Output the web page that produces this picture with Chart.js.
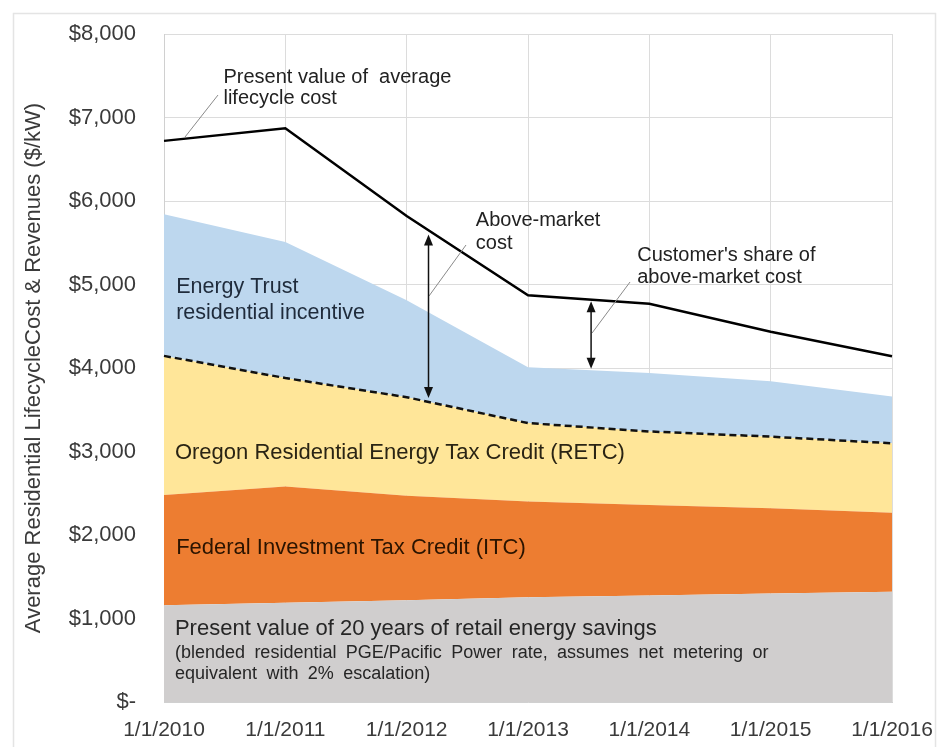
<!DOCTYPE html>
<html><head><meta charset="utf-8">
<script src="https://cdn.jsdelivr.net/npm/chart.js@4.4.0/dist/chart.umd.min.js"></script>
<style>html,body{margin:0;padding:0;background:#fff;} canvas{display:block;}</style>
</head><body>
<canvas id="c" width="937" height="747"></canvas>
<script>
// ---- data ----
const dateLabels = ['1/1/2010','1/1/2011','1/1/2012','1/1/2013','1/1/2014','1/1/2015','1/1/2016'];
const yTickLabels = ['$-','$1,000','$2,000','$3,000','$4,000','$5,000','$6,000','$7,000','$8,000'];
// cumulative tops of each stacked band ($/kW)
const retailSavingsTop = [1160,1190,1220,1255,1275,1298,1320];
const federalItcTop    = [2480,2580,2470,2400,2360,2320,2267];
const oregonRetcTop    = [4145,3880,3650,3340,3240,3178,3098];
const energyTrustTop   = [5840,5510,4810,4010,3940,3840,3660];
const lifecycleCost    = [6720,6870,5820,4870,4770,4435,4140];

const FONT = '"Liberation Sans", Arial, sans-serif';

// annotations in data units (x = category index, y = $/kW)
const annoTexts = [
  {t:'Present value of  average', x:0.49, y:7485, size:20, c:'#222'},
  {t:'lifecycle cost', x:0.49, y:7222, size:20, c:'#222'},
  {t:'Energy Trust', x:0.10, y:4970, size:21.5, c:'#1f2b3b'},
  {t:'residential incentive', x:0.10, y:4659, size:21.5, c:'#1f2b3b'},
  {t:'Above-market', x:2.57, y:5772, size:20, c:'#222'},
  {t:'cost', x:2.57, y:5497, size:20, c:'#222'},
  {t:"Customer's share of", x:3.90, y:5353, size:20, c:'#222'},
  {t:'above-market cost', x:3.90, y:5090, size:20, c:'#222'},
  {t:'Oregon Residential Energy Tax Credit (RETC)', x:0.09, y:2982, size:22, c:'#2a2414'},
  {t:'Federal Investment Tax Credit (ITC)', x:0.10, y:1844, size:22, c:'#2b1400'},
  {t:'Present value of 20 years of retail energy savings', x:0.09, y:874, size:22, c:'#262626'},
  {t:'(blended residential PGE/Pacific Power rate, assumes net metering or', x:0.09, y:587, size:18, c:'#262626', ws:4.4},
  {t:'equivalent with 2% escalation)', x:0.09, y:335, size:18, c:'#262626', ws:4.4}
];
const leaders = [
  {x1:0.173, y1:6766, x2:0.445, y2:7269},
  {x1:2.184, y1:4862, x2:2.489, y2:5473},
  {x1:3.528, y1:4419, x2:3.841, y2:5030}
];
const arrows = [
  {x:2.18, top:5600, bottom:3640},
  {x:3.52, top:4800, bottom:3990}
];

const annoPlugin = {
  id: 'anno',
  beforeDraw(chart) {
    const ctx = chart.ctx;
    ctx.save();
    ctx.fillStyle = '#fff';
    ctx.fillRect(0,0,chart.width,chart.height);
    ctx.strokeStyle = '#e4e4e4';
    ctx.lineWidth = 1.5;
    ctx.strokeRect(13.5, 13.5, 922, 800);
    ctx.restore();
  },
  afterDatasetsDraw(chart) {
    const ctx = chart.ctx;
    const xs = chart.scales.x, ys = chart.scales.y;
    const X = v => xs.getPixelForValue(v), Y = v => ys.getPixelForValue(v);
    ctx.save();
    ctx.strokeStyle = '#8a8a8a';
    ctx.lineWidth = 1;
    leaders.forEach(l => {
      ctx.beginPath(); ctx.moveTo(X(l.x1), Y(l.y1)); ctx.lineTo(X(l.x2), Y(l.y2)); ctx.stroke();
    });
    arrows.forEach(a => {
      const px = X(a.x), t = Y(a.top), b = Y(a.bottom);
      ctx.strokeStyle = '#111'; ctx.fillStyle = '#111'; ctx.lineWidth = 1.5;
      ctx.beginPath(); ctx.moveTo(px, t + 8); ctx.lineTo(px, b - 8); ctx.stroke();
      ctx.beginPath(); ctx.moveTo(px, t); ctx.lineTo(px - 4.5, t + 11); ctx.lineTo(px + 4.5, t + 11); ctx.closePath(); ctx.fill();
      ctx.beginPath(); ctx.moveTo(px, b); ctx.lineTo(px - 4.5, b - 11); ctx.lineTo(px + 4.5, b - 11); ctx.closePath(); ctx.fill();
    });
    ctx.textAlign = 'left';
    ctx.textBaseline = 'middle';
    annoTexts.forEach(a => {
      ctx.font = a.size + 'px ' + FONT;
      ctx.fillStyle = a.c;
      if ('wordSpacing' in ctx) ctx.wordSpacing = (a.ws || 0) + 'px';
      ctx.fillText(a.t, X(a.x), Y(a.y));
    });
    ctx.restore();
  }
};

const area = (label, data, color, fill) => ({
  label, data, backgroundColor: color, borderWidth: 0, borderColor: color,
  fill, pointRadius: 0, tension: 0, order: 2
});

new Chart(document.getElementById('c'), {
  type: 'line',
  data: {
    labels: dateLabels,
    datasets: [
      area('Present value of 20 years of retail energy savings', retailSavingsTop, '#d0cece', 'origin'),
      area('Federal Investment Tax Credit (ITC)', federalItcTop, '#ed7d31', '-1'),
      area('Oregon Residential Energy Tax Credit (RETC)', oregonRetcTop, '#ffe699', '-1'),
      area('Energy Trust residential incentive', energyTrustTop, '#bdd7ee', '-1'),
      {label:'RETC boundary', data: oregonRetcTop, borderColor:'#111', borderWidth:2.5, borderDash:[7,4],
       fill:false, pointRadius:0, tension:0, order:1},
      {label:'Present value of average lifecycle cost', data: lifecycleCost, borderColor:'#000', borderWidth:2.5,
       fill:false, pointRadius:0, tension:0, order:0}
    ]
  },
  options: {
    responsive: false,
    animation: false,
    devicePixelRatio: 1,
    layout: { padding: { top: 34, right: 45, left: 0, bottom: 0 } },
    plugins: { legend: { display: false }, tooltip: { enabled: false } },
    scales: {
      x: {
        type: 'category',
        offset: false,
        grid: { color: '#dcdcdc', lineWidth: 1, drawTicks: false },
        border: { color: '#d0d0d0' },
        ticks: { color: '#3a3a3a', font: { family: FONT, size: 21 }, padding: 16, maxRotation: 0, autoSkip: false },
        afterFit(s) { s.height = 45; s.paddingLeft = 0; s.paddingRight = 0; }
      },
      y: {
        min: 0, max: 8000,
        grid: { color: '#dcdcdc', lineWidth: 1, drawTicks: false },
        border: { color: '#d0d0d0' },
        ticks: {
          stepSize: 1000, color: '#3a3a3a', font: { family: FONT, size: 22 }, padding: 28,
          callback: (v) => yTickLabels[Math.round(v / 1000)]
        },
        title: {
          display: true, text: 'Average Residential LifecycleCost & Revenues ($/kW)',
          color: '#3a3a3a', font: { family: FONT, size: 22 }, padding: { top: 21, bottom: 0 }
        },
        afterFit(s) { s.width = 164; s.paddingTop = 0; s.paddingBottom = 0; }
      }
    }
  },
  plugins: [annoPlugin]
});
</script>
</body></html>
